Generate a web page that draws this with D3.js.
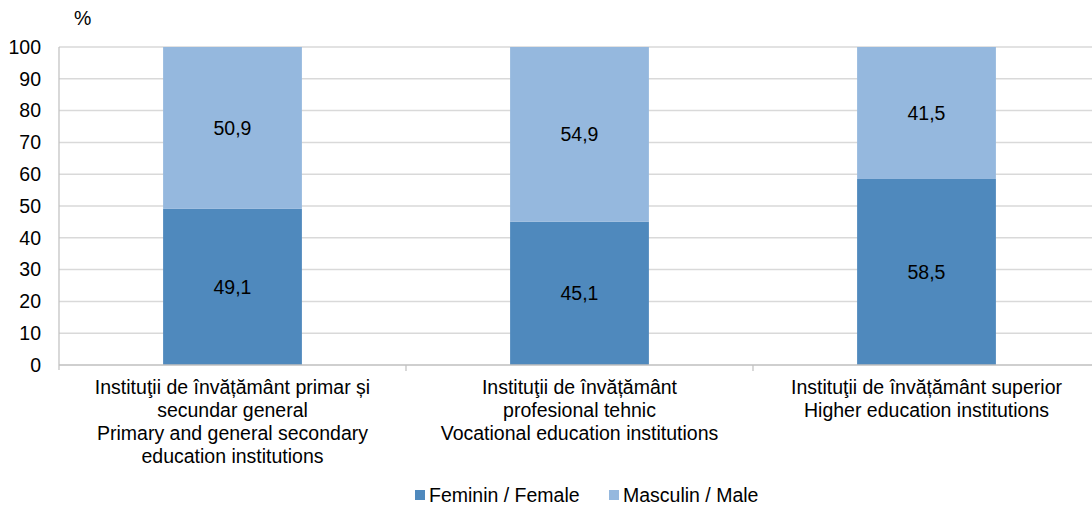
<!DOCTYPE html>
<html><head><meta charset="utf-8">
<script src="https://cdn.jsdelivr.net/npm/d3@7"></script>
<style>body{margin:0;background:#fff;}svg{display:block;font-family:"Liberation Sans",Arial,sans-serif;}</style>
</head><body>
<svg id="c" width="1092" height="510"></svg>
<script>
const categories = [
  ["Instituţii de învățământ primar și","secundar general","Primary and general secondary","education institutions"],
  ["Instituţii de învățământ","profesional tehnic","Vocational education institutions"],
  ["Instituţii de învățământ superior","Higher education institutions"]
];
const female = [49.1, 45.1, 58.5];
const male = [50.9, 54.9, 41.5];
const seriesNames = ["Feminin / Female", "Masculin / Male"];
const colors = ["#4f89bd", "#95b8de"];
const yTicks = [0,10,20,30,40,50,60,70,80,90,100];

const FS = 19.5;
const svg = d3.select("#c");
const L = 59, R = 1100, T = 47, B = 365;
const x = d3.scaleBand().domain(d3.range(categories.length)).range([L, R]).padding(0);
const y = d3.scaleLinear().domain([0,100]).range([B, T]);
const fmt = v => String(v).replace(".", ",");

// gridlines
svg.append("g").selectAll("line").data(yTicks.filter(d=>d>0)).join("line")
  .attr("x1", L).attr("x2", 1092).attr("y1", d=>y(d)).attr("y2", d=>y(d))
  .attr("stroke", "#d9d9d9").attr("stroke-width", 1.5);

// y axis
const ya = svg.append("g").attr("transform", `translate(${L},0)`)
  .call(d3.axisLeft(y).tickValues(yTicks).tickSize(0).tickPadding(18));
ya.select(".domain").remove();
ya.selectAll("text").attr("font-size", FS).attr("fill", "#000").attr("font-family", "Liberation Sans, Arial, sans-serif");
svg.append("line").attr("x1", L).attr("x2", L).attr("y1", T).attr("y2", B+5).attr("stroke", "#bfbfbf").attr("stroke-width", 1.2);

// bars
const bw = x.bandwidth()*0.4;
const g = svg.append("g");
categories.forEach((c,i)=>{
  const cx = x(i) + x.bandwidth()/2;
  const segs = [[0, female[i], colors[0]], [female[i], female[i]+male[i], colors[1]]];
  segs.forEach(([a,b,col])=>{
    g.append("rect").attr("x", cx-bw/2).attr("width", bw)
      .attr("y", y(b)).attr("height", y(a)-y(b)).attr("fill", col);
    g.append("text").attr("x", cx).attr("y", (y(a)+y(b))/2).attr("dy", "0.35em")
      .attr("text-anchor", "middle").attr("font-size", FS).attr("fill", "#000").text(fmt(+(b-a).toFixed(1)));
  });
});

// x axis
svg.append("line").attr("x1", L).attr("x2", 1092).attr("y1", B).attr("y2", B).attr("stroke", "#bfbfbf").attr("stroke-width", 1.5);
svg.append("g").selectAll("line").data(d3.range(1, categories.length)).join("line")
  .attr("x1", d=>x(d)).attr("x2", d=>x(d)).attr("y1", B).attr("y2", B+6)
  .attr("stroke", "#bfbfbf").attr("stroke-width", 1.2);

// category labels
categories.forEach((lines,i)=>{
  const cx = x(i) + x.bandwidth()/2;
  const t = svg.append("text").attr("text-anchor","middle").attr("font-size",FS).attr("fill","#000");
  lines.forEach((ln,j)=>{
    t.append("tspan").attr("x", cx).attr("y", 394 + j*23).text(ln);
  });
});

// % label
svg.append("text").attr("x", 74).attr("y", 25).attr("font-size", FS).attr("fill","#000").text("%");

// legend
const lg = svg.append("g");
const legendX = [415, 609];
seriesNames.forEach((n,i)=>{
  lg.append("rect").attr("x", legendX[i]).attr("y", 490).attr("width", 10).attr("height", 10).attr("fill", colors[i]);
  lg.append("text").attr("x", legendX[i]+14).attr("y", 502).attr("font-size", FS).attr("fill","#000").text(n);
});
</script>
</body></html>
